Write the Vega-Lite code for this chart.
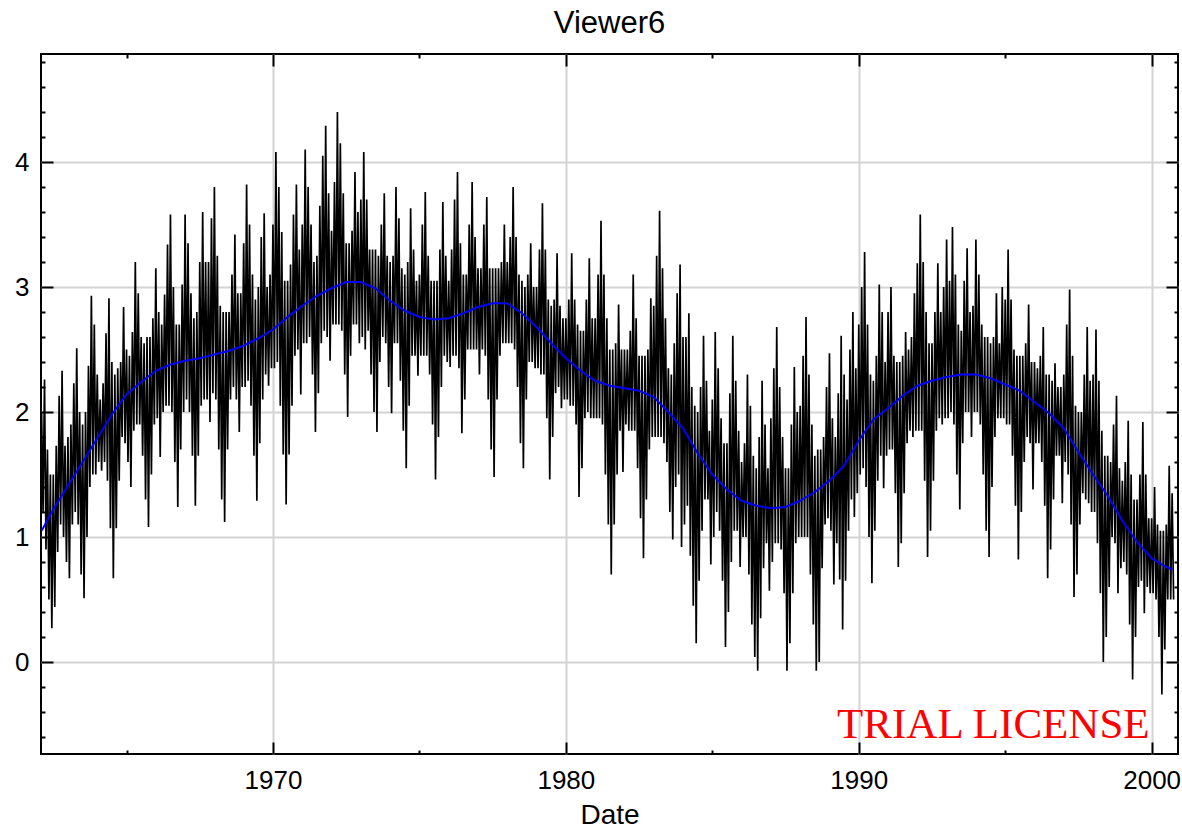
{
"$schema":"https://vega.github.io/schema/vega-lite/v6.json",
"width":1137,"height":700,
"autosize":{"type":"none"},
"padding":{"left":41,"top":54,"right":4,"bottom":78},
"background":"white",
"title":{"text":"Viewer6","font":"Liberation Sans","fontSize":31,"fontWeight":"normal","color":"black","baseline":"alphabetic","offset":-15},
"datasets":{
"series":[
{"t":1962.1,"v":2.0},{"t":1962.15,"v":1.2},{"t":1962.2,"v":2.26},{"t":1962.25,"v":0.9},{"t":1962.3,"v":1.7},{"t":1962.35,"v":0.5},{"t":1962.4,"v":1.5},{"t":1962.45,"v":0.27},{"t":1962.5,"v":1.5},{"t":1962.55,"v":0.44},
{"t":1962.6,"v":1.73},{"t":1962.65,"v":0.88},{"t":1962.7,"v":2.13},{"t":1962.75,"v":1.1},{"t":1962.8,"v":2.33},{"t":1962.85,"v":1.0},{"t":1962.9,"v":1.73},{"t":1962.95,"v":0.8},{"t":1963.0,"v":1.8},{"t":1963.05,"v":0.67},
{"t":1963.1,"v":1.9},{"t":1963.15,"v":1.1},{"t":1963.2,"v":2.23},{"t":1963.25,"v":1.2},{"t":1963.3,"v":2.51},{"t":1963.35,"v":1.1},{"t":1963.4,"v":2.0},{"t":1963.45,"v":0.7},{"t":1963.5,"v":1.9},{"t":1963.55,"v":0.51},
{"t":1963.6,"v":2.0},{"t":1963.65,"v":1.0},{"t":1963.7,"v":2.37},{"t":1963.75,"v":1.4},{"t":1963.8,"v":2.93},{"t":1963.85,"v":1.5},{"t":1963.9,"v":2.7},{"t":1963.95,"v":1.5},{"t":1964.0,"v":2.3},{"t":1964.05,"v":1.6},
{"t":1964.1,"v":2.1},{"t":1964.15,"v":1.53},{"t":1964.2,"v":2.23},{"t":1964.25,"v":1.6},{"t":1964.3,"v":2.63},{"t":1964.35,"v":1.45},{"t":1964.4,"v":2.91},{"t":1964.45,"v":1.07},{"t":1964.5,"v":2.4},{"t":1964.55,"v":0.67},
{"t":1964.6,"v":2.3},{"t":1964.65,"v":1.07},{"t":1964.7,"v":2.35},{"t":1964.75,"v":1.45},{"t":1964.8,"v":2.4},{"t":1964.85,"v":1.8},{"t":1964.9,"v":2.84},{"t":1964.95,"v":1.75},{"t":1965.0,"v":2.5},{"t":1965.05,"v":1.6},
{"t":1965.1,"v":2.45},{"t":1965.15,"v":1.4},{"t":1965.2,"v":2.64},{"t":1965.25,"v":1.85},{"t":1965.3,"v":3.2},{"t":1965.35,"v":1.9},{"t":1965.4,"v":2.95},{"t":1965.45,"v":1.9},{"t":1965.5,"v":2.6},{"t":1965.55,"v":1.65},
{"t":1965.6,"v":2.55},{"t":1965.65,"v":1.3},{"t":1965.7,"v":2.6},{"t":1965.75,"v":1.08},{"t":1965.8,"v":2.6},{"t":1965.85,"v":1.5},{"t":1965.9,"v":2.75},{"t":1965.95,"v":1.9},{"t":1966.0,"v":3.15},{"t":1966.05,"v":1.95},
{"t":1966.1,"v":2.8},{"t":1966.15,"v":1.64},{"t":1966.2,"v":2.7},{"t":1966.25,"v":2.0},{"t":1966.3,"v":2.94},{"t":1966.35,"v":2.05},{"t":1966.4,"v":3.34},{"t":1966.45,"v":2.05},{"t":1966.5,"v":3.58},{"t":1966.55,"v":2.0},
{"t":1966.6,"v":3.0},{"t":1966.65,"v":1.6},{"t":1966.7,"v":2.7},{"t":1966.75,"v":1.24},{"t":1966.8,"v":2.7},{"t":1966.85,"v":1.7},{"t":1966.9,"v":3.02},{"t":1966.95,"v":2.0},{"t":1967.0,"v":3.58},{"t":1967.05,"v":2.1},
{"t":1967.1,"v":3.35},{"t":1967.15,"v":2.0},{"t":1967.2,"v":2.95},{"t":1967.25,"v":1.65},{"t":1967.3,"v":2.75},{"t":1967.35,"v":1.25},{"t":1967.4,"v":2.8},{"t":1967.45,"v":1.65},{"t":1967.5,"v":3.2},{"t":1967.55,"v":2.05},
{"t":1967.6,"v":3.6},{"t":1967.65,"v":2.1},{"t":1967.7,"v":3.2},{"t":1967.75,"v":2.1},{"t":1967.8,"v":3.2},{"t":1967.85,"v":1.92},{"t":1967.9,"v":3.55},{"t":1967.95,"v":2.15},{"t":1968.0,"v":3.8},{"t":1968.05,"v":2.1},
{"t":1968.1,"v":3.25},{"t":1968.15,"v":1.7},{"t":1968.2,"v":2.85},{"t":1968.25,"v":1.3},{"t":1968.3,"v":2.8},{"t":1968.35,"v":1.12},{"t":1968.4,"v":2.8},{"t":1968.45,"v":1.7},{"t":1968.5,"v":2.8},{"t":1968.55,"v":2.1},
{"t":1968.6,"v":3.1},{"t":1968.65,"v":2.2},{"t":1968.7,"v":3.42},{"t":1968.75,"v":2.1},{"t":1968.8,"v":2.95},{"t":1968.85,"v":1.84},{"t":1968.9,"v":2.95},{"t":1968.95,"v":2.2},{"t":1969.0,"v":3.35},{"t":1969.05,"v":2.2},
{"t":1969.1,"v":3.82},{"t":1969.15,"v":2.25},{"t":1969.2,"v":3.5},{"t":1969.25,"v":2.05},{"t":1969.3,"v":3.1},{"t":1969.35,"v":1.65},{"t":1969.4,"v":2.9},{"t":1969.45,"v":1.29},{"t":1969.5,"v":3.0},{"t":1969.55,"v":1.75},
{"t":1969.6,"v":3.4},{"t":1969.65,"v":2.1},{"t":1969.7,"v":3.59},{"t":1969.75,"v":2.3},{"t":1969.8,"v":3.0},{"t":1969.85,"v":2.21},{"t":1969.9,"v":3.1},{"t":1969.95,"v":2.35},{"t":1970.0,"v":3.5},{"t":1970.05,"v":2.35},
{"t":1970.1,"v":4.08},{"t":1970.15,"v":2.4},{"t":1970.2,"v":3.8},{"t":1970.25,"v":2.05},{"t":1970.3,"v":3.44},{"t":1970.35,"v":1.66},{"t":1970.4,"v":3.05},{"t":1970.45,"v":1.26},{"t":1970.5,"v":3.05},{"t":1970.55,"v":1.66},
{"t":1970.6,"v":3.18},{"t":1970.65,"v":2.05},{"t":1970.7,"v":3.58},{"t":1970.75,"v":2.45},{"t":1970.8,"v":3.82},{"t":1970.85,"v":2.5},{"t":1970.9,"v":3.3},{"t":1970.95,"v":2.14},{"t":1971.0,"v":3.5},{"t":1971.05,"v":2.55},
{"t":1971.1,"v":4.1},{"t":1971.15,"v":2.55},{"t":1971.2,"v":3.8},{"t":1971.25,"v":2.6},{"t":1971.3,"v":3.5},{"t":1971.35,"v":2.3},{"t":1971.4,"v":3.2},{"t":1971.45,"v":1.84},{"t":1971.5,"v":3.25},{"t":1971.55,"v":2.15},
{"t":1971.6,"v":3.65},{"t":1971.65,"v":2.55},{"t":1971.7,"v":4.05},{"t":1971.75,"v":2.65},{"t":1971.8,"v":4.29},{"t":1971.85,"v":2.6},{"t":1971.9,"v":3.75},{"t":1971.95,"v":2.41},{"t":1972.0,"v":3.45},{"t":1972.05,"v":2.7},
{"t":1972.1,"v":3.84},{"t":1972.15,"v":2.7},{"t":1972.2,"v":4.4},{"t":1972.25,"v":2.7},{"t":1972.3,"v":4.15},{"t":1972.35,"v":2.65},{"t":1972.4,"v":3.75},{"t":1972.45,"v":2.3},{"t":1972.5,"v":3.35},{"t":1972.55,"v":1.96},
{"t":1972.6,"v":3.35},{"t":1972.65,"v":2.45},{"t":1972.7,"v":3.45},{"t":1972.75,"v":2.7},{"t":1972.8,"v":3.92},{"t":1972.85,"v":2.7},{"t":1972.9,"v":3.6},{"t":1972.95,"v":2.55},{"t":1973.0,"v":3.7},{"t":1973.05,"v":2.6},
{"t":1973.1,"v":4.08},{"t":1973.15,"v":2.5},{"t":1973.2,"v":3.7},{"t":1973.25,"v":2.65},{"t":1973.3,"v":3.3},{"t":1973.35,"v":2.3},{"t":1973.4,"v":3.3},{"t":1973.45,"v":2.0},{"t":1973.5,"v":3.3},{"t":1973.55,"v":1.84},
{"t":1973.6,"v":3.25},{"t":1973.65,"v":2.4},{"t":1973.7,"v":3.5},{"t":1973.75,"v":2.6},{"t":1973.8,"v":3.75},{"t":1973.85,"v":2.55},{"t":1973.9,"v":3.25},{"t":1973.95,"v":2.2},{"t":1974.0,"v":3.2},{"t":1974.05,"v":1.99},
{"t":1974.1,"v":3.25},{"t":1974.15,"v":2.55},{"t":1974.2,"v":3.8},{"t":1974.25,"v":2.55},{"t":1974.3,"v":3.55},{"t":1974.35,"v":2.25},{"t":1974.4,"v":3.15},{"t":1974.45,"v":1.85},{"t":1974.5,"v":3.1},{"t":1974.55,"v":1.55},
{"t":1974.6,"v":3.2},{"t":1974.65,"v":2.05},{"t":1974.7,"v":3.63},{"t":1974.75,"v":2.45},{"t":1974.8,"v":3.3},{"t":1974.85,"v":2.45},{"t":1974.9,"v":3.05},{"t":1974.95,"v":2.29},{"t":1975.0,"v":3.1},{"t":1975.05,"v":2.45},
{"t":1975.1,"v":3.5},{"t":1975.15,"v":2.45},{"t":1975.2,"v":3.76},{"t":1975.25,"v":2.45},{"t":1975.3,"v":3.25},{"t":1975.35,"v":2.3},{"t":1975.4,"v":3.05},{"t":1975.45,"v":1.9},{"t":1975.5,"v":3.05},{"t":1975.55,"v":1.46},
{"t":1975.6,"v":3.05},{"t":1975.65,"v":1.8},{"t":1975.7,"v":3.3},{"t":1975.75,"v":2.2},{"t":1975.8,"v":3.68},{"t":1975.85,"v":2.45},{"t":1975.9,"v":3.25},{"t":1975.95,"v":2.4},{"t":1976.0,"v":3.05},{"t":1976.05,"v":2.36},
{"t":1976.1,"v":3.3},{"t":1976.15,"v":2.45},{"t":1976.2,"v":3.7},{"t":1976.25,"v":2.45},{"t":1976.3,"v":3.92},{"t":1976.35,"v":2.35},{"t":1976.4,"v":3.35},{"t":1976.45,"v":1.83},{"t":1976.5,"v":3.1},{"t":1976.55,"v":2.1},
{"t":1976.6,"v":3.1},{"t":1976.65,"v":2.5},{"t":1976.7,"v":3.5},{"t":1976.75,"v":2.5},{"t":1976.8,"v":3.84},{"t":1976.85,"v":2.5},{"t":1976.9,"v":3.4},{"t":1976.95,"v":2.5},{"t":1977.0,"v":3.15},{"t":1977.05,"v":2.3},
{"t":1977.1,"v":3.15},{"t":1977.15,"v":2.5},{"t":1977.2,"v":3.5},{"t":1977.25,"v":2.45},{"t":1977.3,"v":3.72},{"t":1977.35,"v":2.1},{"t":1977.4,"v":3.15},{"t":1977.45,"v":1.7},{"t":1977.5,"v":3.15},{"t":1977.55,"v":1.48},
{"t":1977.6,"v":3.15},{"t":1977.65,"v":2.1},{"t":1977.7,"v":3.15},{"t":1977.75,"v":2.45},{"t":1977.8,"v":3.2},{"t":1977.85,"v":2.55},{"t":1977.9,"v":3.5},{"t":1977.95,"v":2.55},{"t":1978.0,"v":3.2},{"t":1978.05,"v":2.55},
{"t":1978.1,"v":3.4},{"t":1978.15,"v":2.55},{"t":1978.2,"v":3.8},{"t":1978.25,"v":2.5},{"t":1978.3,"v":3.4},{"t":1978.35,"v":2.2},{"t":1978.4,"v":3.1},{"t":1978.45,"v":1.75},{"t":1978.5,"v":3.05},{"t":1978.55,"v":1.55},
{"t":1978.6,"v":3.0},{"t":1978.65,"v":2.1},{"t":1978.7,"v":3.1},{"t":1978.75,"v":2.4},{"t":1978.8,"v":3.35},{"t":1978.85,"v":2.4},{"t":1978.9,"v":3.0},{"t":1978.95,"v":2.35},{"t":1979.0,"v":3.0},{"t":1979.05,"v":2.35},
{"t":1979.1,"v":3.3},{"t":1979.15,"v":2.3},{"t":1979.2,"v":3.67},{"t":1979.25,"v":2.3},{"t":1979.3,"v":3.3},{"t":1979.35,"v":1.95},{"t":1979.4,"v":2.9},{"t":1979.45,"v":1.46},{"t":1979.5,"v":2.85},{"t":1979.55,"v":1.8},
{"t":1979.6,"v":2.9},{"t":1979.65,"v":2.15},{"t":1979.7,"v":3.27},{"t":1979.75,"v":2.2},{"t":1979.8,"v":2.85},{"t":1979.85,"v":2.03},{"t":1979.9,"v":2.75},{"t":1979.95,"v":2.1},{"t":1980.0,"v":2.75},{"t":1980.05,"v":2.1},
{"t":1980.1,"v":2.9},{"t":1980.15,"v":2.05},{"t":1980.2,"v":3.27},{"t":1980.25,"v":2.05},{"t":1980.3,"v":2.9},{"t":1980.35,"v":1.9},{"t":1980.4,"v":2.7},{"t":1980.45,"v":1.32},{"t":1980.5,"v":2.65},{"t":1980.55,"v":1.55},
{"t":1980.6,"v":2.65},{"t":1980.65,"v":1.95},{"t":1980.7,"v":2.9},{"t":1980.75,"v":2.0},{"t":1980.8,"v":3.23},{"t":1980.85,"v":1.95},{"t":1980.9,"v":2.75},{"t":1980.95,"v":1.95},{"t":1981.0,"v":2.75},{"t":1981.05,"v":1.95},
{"t":1981.1,"v":3.1},{"t":1981.15,"v":1.95},{"t":1981.2,"v":3.53},{"t":1981.25,"v":1.9},{"t":1981.3,"v":3.1},{"t":1981.35,"v":1.5},{"t":1981.4,"v":2.75},{"t":1981.45,"v":1.1},{"t":1981.5,"v":2.5},{"t":1981.55,"v":0.7},
{"t":1981.6,"v":2.5},{"t":1981.65,"v":1.1},{"t":1981.7,"v":2.55},{"t":1981.75,"v":1.5},{"t":1981.8,"v":2.86},{"t":1981.85,"v":1.85},{"t":1981.9,"v":2.5},{"t":1981.95,"v":1.52},{"t":1982.0,"v":2.5},{"t":1982.05,"v":1.9},
{"t":1982.1,"v":2.5},{"t":1982.15,"v":1.85},{"t":1982.2,"v":2.65},{"t":1982.25,"v":1.85},{"t":1982.3,"v":3.1},{"t":1982.35,"v":1.85},{"t":1982.4,"v":2.75},{"t":1982.45,"v":1.55},{"t":1982.5,"v":2.45},{"t":1982.55,"v":1.15},
{"t":1982.6,"v":2.45},{"t":1982.65,"v":0.83},{"t":1982.7,"v":2.45},{"t":1982.75,"v":1.3},{"t":1982.8,"v":2.5},{"t":1982.85,"v":1.7},{"t":1982.9,"v":2.91},{"t":1982.95,"v":1.8},{"t":1983.0,"v":2.85},{"t":1983.05,"v":1.8},
{"t":1983.1,"v":3.25},{"t":1983.15,"v":1.8},{"t":1983.2,"v":3.61},{"t":1983.25,"v":1.8},{"t":1983.3,"v":3.15},{"t":1983.35,"v":1.75},{"t":1983.4,"v":2.75},{"t":1983.45,"v":1.6},{"t":1983.5,"v":2.35},{"t":1983.55,"v":1.2},
{"t":1983.6,"v":2.3},{"t":1983.65,"v":0.98},{"t":1983.7,"v":2.55},{"t":1983.75,"v":1.4},{"t":1983.8,"v":2.95},{"t":1983.85,"v":1.5},{"t":1983.9,"v":3.18},{"t":1983.95,"v":0.92},{"t":1984.0,"v":2.6},{"t":1984.05,"v":1.1},
{"t":1984.1,"v":2.6},{"t":1984.15,"v":1.25},{"t":1984.2,"v":2.79},{"t":1984.25,"v":0.85},{"t":1984.3,"v":2.2},{"t":1984.35,"v":0.45},{"t":1984.4,"v":2.05},{"t":1984.45,"v":0.15},{"t":1984.5,"v":2.0},{"t":1984.55,"v":0.65},
{"t":1984.6,"v":2.2},{"t":1984.65,"v":1.05},{"t":1984.7,"v":2.61},{"t":1984.75,"v":1.3},{"t":1984.8,"v":2.25},{"t":1984.85,"v":1.3},{"t":1984.9,"v":1.85},{"t":1984.95,"v":0.78},{"t":1985.0,"v":2.1},{"t":1985.05,"v":1.0},
{"t":1985.1,"v":2.64},{"t":1985.15,"v":1.2},{"t":1985.2,"v":2.35},{"t":1985.25,"v":1.05},{"t":1985.3,"v":1.95},{"t":1985.35,"v":0.65},{"t":1985.4,"v":1.75},{"t":1985.45,"v":0.12},{"t":1985.5,"v":1.75},{"t":1985.55,"v":0.4},
{"t":1985.6,"v":2.15},{"t":1985.65,"v":0.8},{"t":1985.7,"v":2.61},{"t":1985.75,"v":1.05},{"t":1985.8,"v":2.25},{"t":1985.85,"v":1.05},{"t":1985.9,"v":1.85},{"t":1985.95,"v":0.76},{"t":1986.0,"v":1.6},{"t":1986.05,"v":1.0},
{"t":1986.1,"v":1.75},{"t":1986.15,"v":1.0},{"t":1986.2,"v":2.3},{"t":1986.25,"v":0.7},{"t":1986.3,"v":2.05},{"t":1986.35,"v":0.3},{"t":1986.4,"v":1.65},{"t":1986.45,"v":0.04},{"t":1986.5,"v":1.55},{"t":1986.55,"v":-0.07},
{"t":1986.6,"v":1.8},{"t":1986.65,"v":0.35},{"t":1986.7,"v":2.25},{"t":1986.75,"v":0.75},{"t":1986.8,"v":1.9},{"t":1986.85,"v":0.95},{"t":1986.9,"v":1.55},{"t":1986.95,"v":0.57},{"t":1987.0,"v":1.95},{"t":1987.05,"v":0.8},
{"t":1987.1,"v":2.35},{"t":1987.15,"v":0.95},{"t":1987.2,"v":2.68},{"t":1987.25,"v":0.95},{"t":1987.3,"v":2.2},{"t":1987.35,"v":0.9},{"t":1987.4,"v":1.8},{"t":1987.45,"v":0.55},{"t":1987.5,"v":1.55},{"t":1987.55,"v":-0.07},
{"t":1987.6,"v":1.55},{"t":1987.65,"v":0.15},{"t":1987.7,"v":1.9},{"t":1987.75,"v":0.55},{"t":1987.8,"v":2.36},{"t":1987.85,"v":0.95},{"t":1987.9,"v":2.0},{"t":1987.95,"v":1.0},{"t":1988.0,"v":2.05},{"t":1988.05,"v":1.0},
{"t":1988.1,"v":2.45},{"t":1988.15,"v":1.0},{"t":1988.2,"v":2.76},{"t":1988.25,"v":1.0},{"t":1988.3,"v":2.3},{"t":1988.35,"v":0.7},{"t":1988.4,"v":1.9},{"t":1988.45,"v":0.3},{"t":1988.5,"v":1.65},{"t":1988.55,"v":-0.07},
{"t":1988.6,"v":1.7},{"t":1988.65,"v":0.0},{"t":1988.7,"v":1.7},{"t":1988.75,"v":0.75},{"t":1988.8,"v":1.8},{"t":1988.85,"v":1.1},{"t":1988.9,"v":2.2},{"t":1988.95,"v":1.15},{"t":1989.0,"v":2.47},{"t":1989.05,"v":1.05},
{"t":1989.1,"v":1.95},{"t":1989.15,"v":0.62},{"t":1989.2,"v":1.8},{"t":1989.25,"v":0.95},{"t":1989.3,"v":2.15},{"t":1989.35,"v":0.66},{"t":1989.4,"v":2.61},{"t":1989.45,"v":0.26},{"t":1989.5,"v":2.3},{"t":1989.55,"v":0.65},
{"t":1989.6,"v":2.1},{"t":1989.65,"v":1.05},{"t":1989.7,"v":2.5},{"t":1989.75,"v":1.3},{"t":1989.8,"v":2.8},{"t":1989.85,"v":1.16},{"t":1989.9,"v":2.35},{"t":1989.95,"v":1.35},{"t":1990.0,"v":2.7},{"t":1990.05,"v":1.5},
{"t":1990.1,"v":3.0},{"t":1990.15,"v":1.55},{"t":1990.2,"v":3.28},{"t":1990.25,"v":1.4},{"t":1990.3,"v":2.7},{"t":1990.35,"v":1.0},{"t":1990.4,"v":2.3},{"t":1990.45,"v":0.63},{"t":1990.5,"v":2.25},{"t":1990.55,"v":1.05},
{"t":1990.6,"v":2.45},{"t":1990.65,"v":1.45},{"t":1990.7,"v":3.02},{"t":1990.75,"v":1.65},{"t":1990.8,"v":2.8},{"t":1990.85,"v":1.39},{"t":1990.9,"v":2.4},{"t":1990.95,"v":1.65},{"t":1991.0,"v":2.8},{"t":1991.05,"v":1.7},
{"t":1991.1,"v":3.0},{"t":1991.15,"v":1.7},{"t":1991.2,"v":2.45},{"t":1991.25,"v":1.35},{"t":1991.3,"v":2.4},{"t":1991.35,"v":0.76},{"t":1991.4,"v":2.4},{"t":1991.45,"v":0.95},{"t":1991.5,"v":2.45},{"t":1991.55,"v":1.35},
{"t":1991.6,"v":2.64},{"t":1991.65,"v":1.75},{"t":1991.7,"v":2.5},{"t":1991.75,"v":1.85},{"t":1991.8,"v":2.6},{"t":1991.85,"v":1.8},{"t":1991.9,"v":2.95},{"t":1991.95,"v":1.85},{"t":1992.0,"v":3.19},{"t":1992.05,"v":1.85},
{"t":1992.1,"v":3.58},{"t":1992.15,"v":1.85},{"t":1992.2,"v":3.2},{"t":1992.25,"v":1.45},{"t":1992.3,"v":2.8},{"t":1992.35,"v":0.84},{"t":1992.4,"v":2.55},{"t":1992.45,"v":1.05},{"t":1992.5,"v":2.55},{"t":1992.55,"v":1.45},
{"t":1992.6,"v":2.8},{"t":1992.65,"v":1.85},{"t":1992.7,"v":3.19},{"t":1992.75,"v":1.95},{"t":1992.8,"v":2.8},{"t":1992.85,"v":1.9},{"t":1992.9,"v":3.0},{"t":1992.95,"v":1.95},{"t":1993.0,"v":3.38},{"t":1993.05,"v":1.95},
{"t":1993.1,"v":3.05},{"t":1993.15,"v":2.0},{"t":1993.2,"v":3.48},{"t":1993.25,"v":1.9},{"t":1993.3,"v":3.1},{"t":1993.35,"v":1.5},{"t":1993.4,"v":2.7},{"t":1993.45,"v":1.22},{"t":1993.5,"v":2.65},{"t":1993.55,"v":1.75},
{"t":1993.6,"v":3.05},{"t":1993.65,"v":2.0},{"t":1993.7,"v":3.31},{"t":1993.75,"v":2.0},{"t":1993.8,"v":2.8},{"t":1993.85,"v":1.8},{"t":1993.9,"v":2.85},{"t":1993.95,"v":2.0},{"t":1994.0,"v":3.38},{"t":1994.05,"v":2.0},
{"t":1994.1,"v":3.1},{"t":1994.15,"v":1.9},{"t":1994.2,"v":2.7},{"t":1994.25,"v":1.5},{"t":1994.3,"v":2.6},{"t":1994.35,"v":1.05},{"t":1994.4,"v":2.6},{"t":1994.45,"v":0.84},{"t":1994.5,"v":2.55},{"t":1994.55,"v":1.4},
{"t":1994.6,"v":2.6},{"t":1994.65,"v":1.8},{"t":1994.7,"v":2.95},{"t":1994.75,"v":1.95},{"t":1994.8,"v":2.55},{"t":1994.85,"v":1.95},{"t":1994.9,"v":3.0},{"t":1994.95,"v":1.95},{"t":1995.0,"v":2.9},{"t":1995.05,"v":1.9},
{"t":1995.1,"v":3.3},{"t":1995.15,"v":1.9},{"t":1995.2,"v":2.9},{"t":1995.25,"v":1.65},{"t":1995.3,"v":2.5},{"t":1995.35,"v":1.25},{"t":1995.4,"v":2.45},{"t":1995.45,"v":0.82},{"t":1995.5,"v":2.45},{"t":1995.55,"v":1.2},
{"t":1995.6,"v":2.45},{"t":1995.65,"v":1.6},{"t":1995.7,"v":2.55},{"t":1995.75,"v":1.8},{"t":1995.8,"v":2.86},{"t":1995.85,"v":1.75},{"t":1995.9,"v":2.4},{"t":1995.95,"v":1.38},{"t":1996.0,"v":2.4},{"t":1996.05,"v":1.75},
{"t":1996.1,"v":2.35},{"t":1996.15,"v":1.75},{"t":1996.2,"v":2.45},{"t":1996.25,"v":1.6},{"t":1996.3,"v":2.68},{"t":1996.35,"v":1.25},{"t":1996.4,"v":2.3},{"t":1996.45,"v":0.67},{"t":1996.5,"v":2.3},{"t":1996.55,"v":0.9},
{"t":1996.6,"v":2.25},{"t":1996.65,"v":1.3},{"t":1996.7,"v":2.39},{"t":1996.75,"v":1.65},{"t":1996.8,"v":2.2},{"t":1996.85,"v":1.65},{"t":1996.9,"v":2.2},{"t":1996.95,"v":1.27},{"t":1997.0,"v":2.3},{"t":1997.05,"v":1.6},
{"t":1997.1,"v":2.7},{"t":1997.15,"v":1.5},{"t":1997.2,"v":2.98},{"t":1997.25,"v":1.1},{"t":1997.3,"v":2.45},{"t":1997.35,"v":0.52},{"t":1997.4,"v":2.05},{"t":1997.45,"v":0.7},{"t":1997.5,"v":2.0},{"t":1997.55,"v":1.1},
{"t":1997.6,"v":2.0},{"t":1997.65,"v":1.35},{"t":1997.7,"v":2.3},{"t":1997.75,"v":1.3},{"t":1997.8,"v":2.68},{"t":1997.85,"v":1.27},{"t":1997.9,"v":2.25},{"t":1997.95,"v":1.2},{"t":1998.0,"v":2.3},{"t":1998.05,"v":1.2},
{"t":1998.1,"v":2.66},{"t":1998.15,"v":0.95},{"t":1998.2,"v":2.25},{"t":1998.25,"v":0.55},{"t":1998.3,"v":1.85},{"t":1998.35,"v":0.0},{"t":1998.4,"v":1.65},{"t":1998.45,"v":0.2},{"t":1998.5,"v":1.65},{"t":1998.55,"v":0.6},
{"t":1998.6,"v":1.6},{"t":1998.65,"v":1.0},{"t":1998.7,"v":1.9},{"t":1998.75,"v":0.95},{"t":1998.8,"v":2.13},{"t":1998.85,"v":0.55},{"t":1998.9,"v":1.55},{"t":1998.95,"v":0.75},{"t":1999.0,"v":1.45},{"t":1999.05,"v":0.8},
{"t":1999.1,"v":1.6},{"t":1999.15,"v":0.7},{"t":1999.2,"v":1.93},{"t":1999.25,"v":0.3},{"t":1999.3,"v":1.5},{"t":1999.35,"v":-0.14},{"t":1999.4,"v":1.3},{"t":1999.45,"v":0.2},{"t":1999.5,"v":1.3},{"t":1999.55,"v":0.6},
{"t":1999.6,"v":1.5},{"t":1999.65,"v":0.65},{"t":1999.7,"v":1.92},{"t":1999.75,"v":0.39},{"t":1999.8,"v":1.5},{"t":1999.85,"v":0.6},{"t":1999.9,"v":1.15},{"t":1999.95,"v":0.55},{"t":2000.0,"v":1.15},{"t":2000.05,"v":0.55},
{"t":2000.1,"v":1.4},{"t":2000.15,"v":0.5},{"t":2000.2,"v":1.1},{"t":2000.25,"v":0.2},{"t":2000.3,"v":1.05},{"t":2000.35,"v":-0.26},{"t":2000.4,"v":1.05},{"t":2000.45,"v":0.1},{"t":2000.5,"v":1.1},{"t":2000.55,"v":0.5},
{"t":2000.6,"v":1.57},{"t":2000.65,"v":0.5},{"t":2000.7,"v":1.35},{"t":2000.75,"v":0.5}
],
"smooth":[
{"t":1962.1,"v":1.05},{"t":1962.5,"v":1.22},{"t":1963.0,"v":1.41},{"t":1963.5,"v":1.6},{"t":1964.0,"v":1.79},{"t":1964.5,"v":1.98},{"t":1965.0,"v":2.14},{"t":1965.5,"v":2.24},{"t":1966.0,"v":2.33},{"t":1966.5,"v":2.38},
{"t":1967.0,"v":2.41},{"t":1967.5,"v":2.43},{"t":1968.0,"v":2.46},{"t":1968.5,"v":2.49},{"t":1969.0,"v":2.53},{"t":1969.5,"v":2.59},{"t":1970.0,"v":2.66},{"t":1970.5,"v":2.76},{"t":1971.0,"v":2.85},{"t":1971.5,"v":2.93},
{"t":1972.0,"v":2.99},{"t":1972.5,"v":3.04},{"t":1973.0,"v":3.04},{"t":1973.5,"v":2.99},{"t":1974.0,"v":2.89},{"t":1974.5,"v":2.81},{"t":1975.0,"v":2.76},{"t":1975.5,"v":2.74},{"t":1976.0,"v":2.75},{"t":1976.5,"v":2.79},
{"t":1977.0,"v":2.84},{"t":1977.5,"v":2.87},{"t":1978.0,"v":2.87},{"t":1978.5,"v":2.79},{"t":1979.0,"v":2.68},{"t":1979.5,"v":2.55},{"t":1980.0,"v":2.43},{"t":1980.5,"v":2.33},{"t":1981.0,"v":2.25},{"t":1981.5,"v":2.21},
{"t":1982.0,"v":2.19},{"t":1982.5,"v":2.17},{"t":1983.0,"v":2.12},{"t":1983.5,"v":2.0},{"t":1984.0,"v":1.87},{"t":1984.5,"v":1.67},{"t":1985.0,"v":1.5},{"t":1985.5,"v":1.38},{"t":1986.0,"v":1.29},{"t":1986.5,"v":1.25},
{"t":1987.0,"v":1.23},{"t":1987.5,"v":1.24},{"t":1988.0,"v":1.29},{"t":1988.5,"v":1.36},{"t":1989.0,"v":1.45},{"t":1989.5,"v":1.57},{"t":1990.0,"v":1.77},{"t":1990.5,"v":1.94},{"t":1991.0,"v":2.03},{"t":1991.5,"v":2.13},
{"t":1992.0,"v":2.21},{"t":1992.5,"v":2.25},{"t":1993.0,"v":2.28},{"t":1993.5,"v":2.3},{"t":1994.0,"v":2.3},{"t":1994.5,"v":2.27},{"t":1995.0,"v":2.22},{"t":1995.5,"v":2.17},{"t":1996.0,"v":2.08},{"t":1996.5,"v":1.99},
{"t":1997.0,"v":1.87},{"t":1997.5,"v":1.68},{"t":1998.0,"v":1.5},{"t":1998.5,"v":1.33},{"t":1999.0,"v":1.13},{"t":1999.5,"v":0.96},{"t":2000.0,"v":0.83},{"t":2000.5,"v":0.76},{"t":2000.72,"v":0.74}
]
},
"layer":[
{
"data":{"name":"series"},
"mark":{"type":"line","color":"black","strokeWidth":1.7,"clip":true},
"encoding":{
"x":{"field":"t","type":"quantitative","scale":{"domain":[1962.08,2000.9],"nice":false,"zero":false},
"axis":{"orient":"bottom","title":"Date","values":[1965,1970,1975,1980,1985,1990,1995,2000],"labelExpr":"datum.value % 10 === 0 ? format(datum.value, 'd') : ''","labelOverlap":false,"labelFlush":false,"labelPadding":25,"titlePadding":0,"titleFontSize":28,
"tickSize":{"condition":{"test":"datum.value % 10 === 0","value":-12},"value":-4},
"gridOpacity":{"condition":{"test":"datum.value % 10 === 0","value":1},"value":0}}},
"y":{"field":"v","type":"quantitative","scale":{"domain":[-0.736,4.864],"nice":false,"zero":false},
"axis":{"orient":"left","title":null,"values":[-0.6,-0.4,-0.2,0,0.2,0.4,0.6,0.8,1,1.2,1.4,1.6,1.8,2,2.2,2.4,2.6,2.8,3,3.2,3.4,3.6,3.8,4,4.2,4.4,4.6,4.8],"labelExpr":"datum.value % 1 === 0 ? format(datum.value, 'd') : ''","labelOverlap":false,"labelFlush":false,"labelPadding":24,
"tickSize":{"condition":{"test":"datum.value % 1 === 0","value":-12},"value":-4},
"gridOpacity":{"condition":{"test":"datum.value % 1 === 0","value":1},"value":0}}}
}
},
{
"data":{"name":"smooth"},
"mark":{"type":"line","color":"#0000ff","strokeWidth":2},
"encoding":{
"x":{"field":"t","type":"quantitative","scale":{"domain":[1962.08,2000.9],"nice":false,"zero":false},
"axis":{"orient":"top","title":null,"values":[1965,1970,1975,1980,1985,1990,1995,2000],"labels":false,"grid":false,
"tickSize":{"condition":{"test":"datum.value % 10 === 0","value":-12},"value":-4}}},
"y":{"field":"v","type":"quantitative","scale":{"domain":[-0.736,4.864],"nice":false,"zero":false},
"axis":{"orient":"right","title":null,"values":[-0.6,-0.4,-0.2,0,0.2,0.4,0.6,0.8,1,1.2,1.4,1.6,1.8,2,2.2,2.4,2.6,2.8,3,3.2,3.4,3.6,3.8,4,4.2,4.4,4.6,4.8],"labels":false,"grid":false,
"tickSize":{"condition":{"test":"datum.value % 1 === 0","value":-12},"value":-4}}}
}
},
{
"data":{"values":[{}]},
"mark":{"type":"text","text":"TRIAL LICENSE","font":"Liberation Serif","fontSize":43,"color":"#ff0000","align":"right","baseline":"alphabetic"},
"encoding":{
"x":{"datum":1999.93,"type":"quantitative","scale":{"domain":[1962.08,2000.9],"nice":false,"zero":false},"axis":null},
"y":{"datum":-0.608,"type":"quantitative","scale":{"domain":[-0.736,4.864],"nice":false,"zero":false},"axis":null}
}
}
],
"resolve":{"axis":{"x":"independent","y":"independent"}},
"config":{
"view":{"stroke":"black","strokeWidth":2},
"axis":{"domain":false,"labelFont":"Liberation Sans","labelFontSize":26,"labelColor":"black","titleFont":"Liberation Sans","titleFontSize":26,"titleFontWeight":"normal","titleColor":"black","tickColor":"black","tickWidth":2,"gridColor":"#d4d4d4","gridWidth":2}
}
}
